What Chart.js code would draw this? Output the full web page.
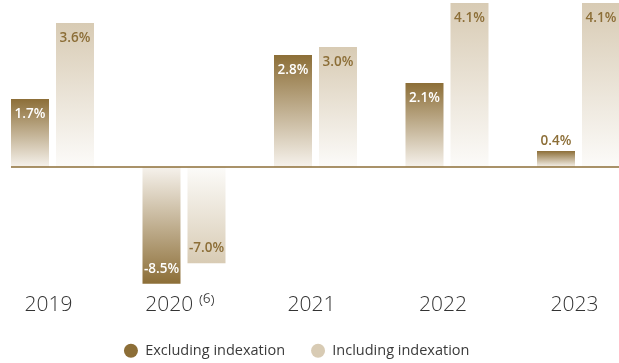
<!DOCTYPE html>
<html>
<head>
<meta charset="utf-8">
<script src="https://cdn.jsdelivr.net/npm/chart.js@4.4.1/dist/chart.umd.min.js"></script>
<style>
  html, body { margin: 0; padding: 0; background: #fff; overflow: hidden; }
  #wrap { position: relative; width: 619px; height: 368px; }
</style>
</head>
<body>
<div id="wrap"><canvas id="chart" width="619" height="368"></canvas></div>
<script>
// ── data ──────────────────────────────────────────────
const years       = ['2019', '2020', '2021', '2022', '2023'];
const yearNotes   = ['', '⁽⁶⁾', '', '', ''];
const excluding   = [1.7, -8.5, 2.8, 2.1, 0.4];
const including   = [3.6, -7.0, 3.0, 4.1, 4.1];
const seriesNames = ['Excluding indexation', 'Including indexation'];

// ── look ─────────────────────────────────────────────
const GOLD       = '#8c6e37';
const SAND       = '#d8cbb4';
const TXT        = '#3a3a3a';
const NEG_RATIO  = 0.344;   // negative side of the axis is drawn compressed

// linear scale whose negative half is squeezed
const Linear = Chart.LinearScale || Chart.registry.getScale('linear');
class SplitScale extends Linear {
  getPixelForValue(v) {
    return super.getPixelForValue(v < 0 ? v * NEG_RATIO : v);
  }
}
SplitScale.id = 'split';
SplitScale.defaults = Linear.defaults;
Chart.register(SplitScale);

function barFill(top, bottom) {
  return c => {
    const chart = c.chart;
    if (c.type !== 'data' || !chart.chartArea) return top;
    const y = chart.scales.y;
    const g = chart.ctx.createLinearGradient(0, y.getPixelForValue(c.raw), 0, y.getPixelForValue(0));
    g.addColorStop(0, top);
    g.addColorStop(1, bottom);
    return g;
  };
}

const barLabels = {
  id: 'barLabels',
  afterDatasetsDraw(chart) {
    const { ctx, scales: { y } } = chart;
    const zero = y.getPixelForValue(0);
    const first = chart.getDatasetMeta(0).data[0];

    ctx.save();
    ctx.strokeStyle = GOLD;
    ctx.lineWidth = 1.5;
    ctx.beginPath();
    ctx.moveTo(first.x - first.width / 2, zero);
    ctx.lineTo(chart.width, zero);
    ctx.stroke();

    ctx.font = '600 13.5px "Open Sans"';
    ctx.textAlign = 'center';
    ctx.textBaseline = 'middle';
    chart.data.datasets.forEach((ds, di) => {
      chart.getDatasetMeta(di).data.forEach((bar, i) => {
        const v = ds.data[i];
        const dir = v >= 0 ? 1 : -1;
        const h = Math.abs(bar.base - bar.y);
        let ty, col;
        if (h < 30) { ty = bar.y - dir * 10; col = GOLD; }
        else { ty = bar.y + dir * 15; col = di === 0 ? '#fff' : GOLD; }
        ctx.fillStyle = col;
        ctx.fillText(v.toFixed(1) + '%', bar.x, ty);
      });
    });
    ctx.restore();
  }
};

const hiddenAxis = {
  grid: { display: false, drawTicks: false },
  border: { display: false },
  ticks: { display: false },
};

new Chart(document.getElementById('chart'), {
  type: 'bar',
  data: {
    labels: years.map((y, i) => yearNotes[i] ? y + ' ' + yearNotes[i] : y),
    datasets: [
      { label: seriesNames[0], data: excluding, backgroundColor: barFill(GOLD, '#f6f2ec'), borderWidth: 0, clip: false },
      { label: seriesNames[1], data: including, backgroundColor: barFill(SAND, '#fcfbf9'), borderWidth: 0, clip: false },
    ]
  },
  options: {
    responsive: false,
    animation: false,
    events: [],
    categoryPercentage: 0.6844,
    barPercentage: 0.8444,
    layout: { padding: { left: 0, right: 25.6, top: 0, bottom: 0 } },
    scales: {
      x: {
        offset: false,
        grid: { display: false, drawTicks: false },
        border: { display: false },
        ticks: {
          color: '#333', padding: 3, labelOffset: -4,
          maxRotation: 0, autoSkip: false,
          font: { family: 'Open Sans', size: 21, weight: '300' }
        },
        afterFit(s) { s.height = 28.2; }
      },
      y: {
        type: 'split', position: 'left', min: -3.06, max: 4.175,
        ...hiddenAxis,
        afterFit(s) { s.width = 52.5; }
      },
      y2: {
        type: 'linear', position: 'right', display: true,
        ...hiddenAxis,
        afterFit(s) { s.width = 14.9; }
      }
    },
    plugins: {
      tooltip: { enabled: false },
      legend: {
        position: 'bottom',
        labels: {
          usePointStyle: true,
          pointStyle: 'circle',
          boxHeight: 10,
          pointStyleWidth: 14,
          padding: 26,
          color: TXT,
          font: { family: 'Open Sans', size: 14.5 },
          generateLabels: () => seriesNames.map((t, i) => ({
            text: t, fillStyle: [GOLD, SAND][i], strokeStyle: [GOLD, SAND][i],
            lineWidth: 0, pointStyle: 'circle', datasetIndex: i, hidden: false, fontColor: TXT
          }))
        }
      }
    }
  },
  plugins: [barLabels]
});
</script>
</body>
</html>
